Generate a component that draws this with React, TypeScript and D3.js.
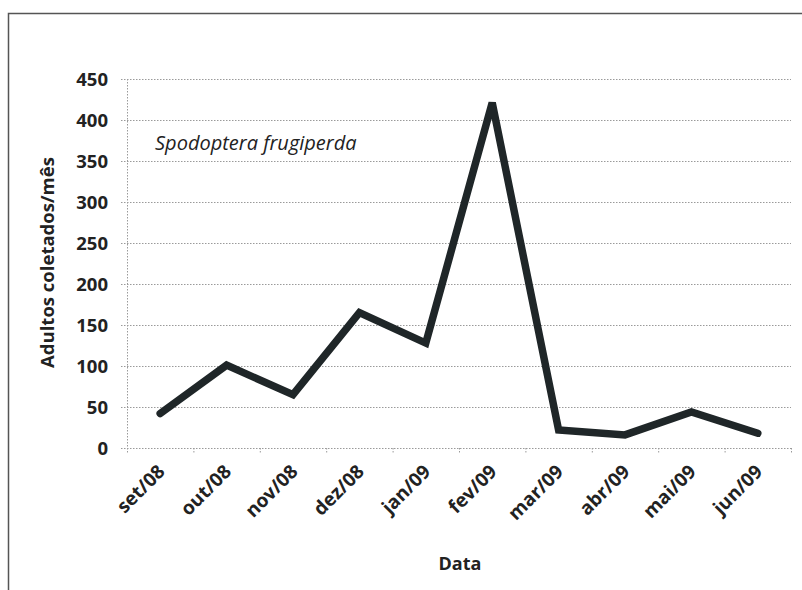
import React, { useEffect, useRef } from 'react';
import * as d3 from 'd3';

// chart data
const months = ['set/08', 'out/08', 'nov/08', 'dez/08', 'jan/09', 'fev/09', 'mar/09', 'abr/09', 'mai/09', 'jun/09'];
const adults = [42, 101, 65, 165, 128, 421, 22, 16, 44, 18];
const yTicks = [0, 50, 100, 150, 200, 250, 300, 350, 400, 450];

const App: React.FC = () => {
  const svgRef = useRef<SVGSVGElement>(null);

  useEffect(() => {
    if (!svgRef.current) return;
    d3.select(svgRef.current).selectAll('*').remove();

    const width = 802;
    const height = 590;
    const left = 127;
    const right = 791;
    const top = 79;
    const bottom = 448;
    const fontFamily = '"Open Sans", Lato, sans-serif';
    const gridColor = '#9a9a9a';
    const lineColor = '#1f2628';
    const textColor = '#222';

    const svg = d3.select(svgRef.current)
      .attr('width', width)
      .attr('height', height)
      .style('position', 'absolute')
      .style('left', '0px')
      .style('top', '0px');

    svg.append('rect').attr('width', width).attr('height', height).attr('fill', '#fff');

    // frame: only top and left edges show in the scan
    svg.append('path')
      .attr('d', `M8.5,${height}V13.5H${width}`)
      .attr('fill', 'none')
      .attr('stroke', '#555')
      .attr('stroke-width', 1.5);

    const x = d3.scaleBand<string>().domain(months).range([left, right]);
    const y = d3.scaleLinear().domain([0, 450]).range([bottom, top]);

    // horizontal gridlines
    svg.append('g')
      .selectAll('line')
      .data(yTicks)
      .join('line')
      .attr('x1', left - 6).attr('x2', right)
      .attr('y1', d => y(d) + 0.5).attr('y2', d => y(d) + 0.5)
      .attr('stroke', gridColor)
      .attr('stroke-width', 1)
      .attr('stroke-dasharray', '1.5,1.5');

    // y axis line
    svg.append('line')
      .attr('x1', left + 0.5).attr('x2', left + 0.5)
      .attr('y1', top).attr('y2', bottom)
      .attr('stroke', gridColor)
      .attr('stroke-dasharray', '1.5,1.5');

    // x tick marks at band edges
    const edges = months.map(m => x(m) as number).concat([right]);
    svg.append('g')
      .selectAll('line')
      .data(edges)
      .join('line')
      .attr('x1', d => d + 0.5).attr('x2', d => d + 0.5)
      .attr('y1', bottom).attr('y2', bottom + 6)
      .attr('stroke', gridColor)
      .attr('stroke-dasharray', '1.5,1.5');

    // y tick labels
    svg.append('g')
      .selectAll('text')
      .data(yTicks)
      .join('text')
      .attr('x', left - 19)
      .attr('y', d => y(d))
      .attr('dy', '0.36em')
      .attr('text-anchor', 'end')
      .attr('font-family', fontFamily)
      .attr('font-weight', 'bold')
      .attr('font-size', 18.5)
      .attr('fill', textColor)
      .text(d => d);

    // x tick labels, rotated
    svg.append('g')
      .selectAll('text')
      .data(months)
      .join('text')
      .attr('transform', d => `translate(${(x(d) as number) + x.bandwidth() / 2 + 1},${bottom + 20}) rotate(-45)`)
      .attr('text-anchor', 'end')
      .attr('dy', '0.36em')
      .attr('font-family', fontFamily)
      .attr('font-weight', 'bold')
      .attr('font-size', 19)
      .attr('fill', textColor)
      .text(d => d);

    // axis titles
    svg.append('text')
      .attr('transform', `translate(54,${(top + bottom) / 2 - 1}) rotate(-90)`)
      .attr('text-anchor', 'middle')
      .attr('font-family', fontFamily)
      .attr('font-weight', 'bold')
      .attr('font-size', 18.5)
      .attr('fill', textColor)
      .text('Adultos coletados/mês');

    svg.append('text')
      .attr('x', 460)
      .attr('y', 570)
      .attr('text-anchor', 'middle')
      .attr('font-family', fontFamily)
      .attr('font-weight', 'bold')
      .attr('font-size', 18)
      .attr('fill', textColor)
      .text('Data');

    svg.append('text')
      .attr('x', 155)
      .attr('y', 150)
      .attr('font-family', fontFamily)
      .attr('font-style', 'italic')
      .attr('font-size', 20)
      .attr('fill', textColor)
      .text('Spodoptera frugiperda');

    // series line
    const line = d3.line<number>()
      .x((_, i) => (x(months[i]) as number) + x.bandwidth() / 2)
      .y(d => y(d));

    svg.append('path')
      .datum(adults)
      .attr('d', line)
      .attr('fill', 'none')
      .attr('stroke', lineColor)
      .attr('stroke-width', 7.5)
      .attr('stroke-linejoin', 'miter')
      .attr('stroke-linecap', 'round');
  }, []);

  return (
    <div>
      <svg ref={svgRef}></svg>
    </div>
  );
};

export default App;
